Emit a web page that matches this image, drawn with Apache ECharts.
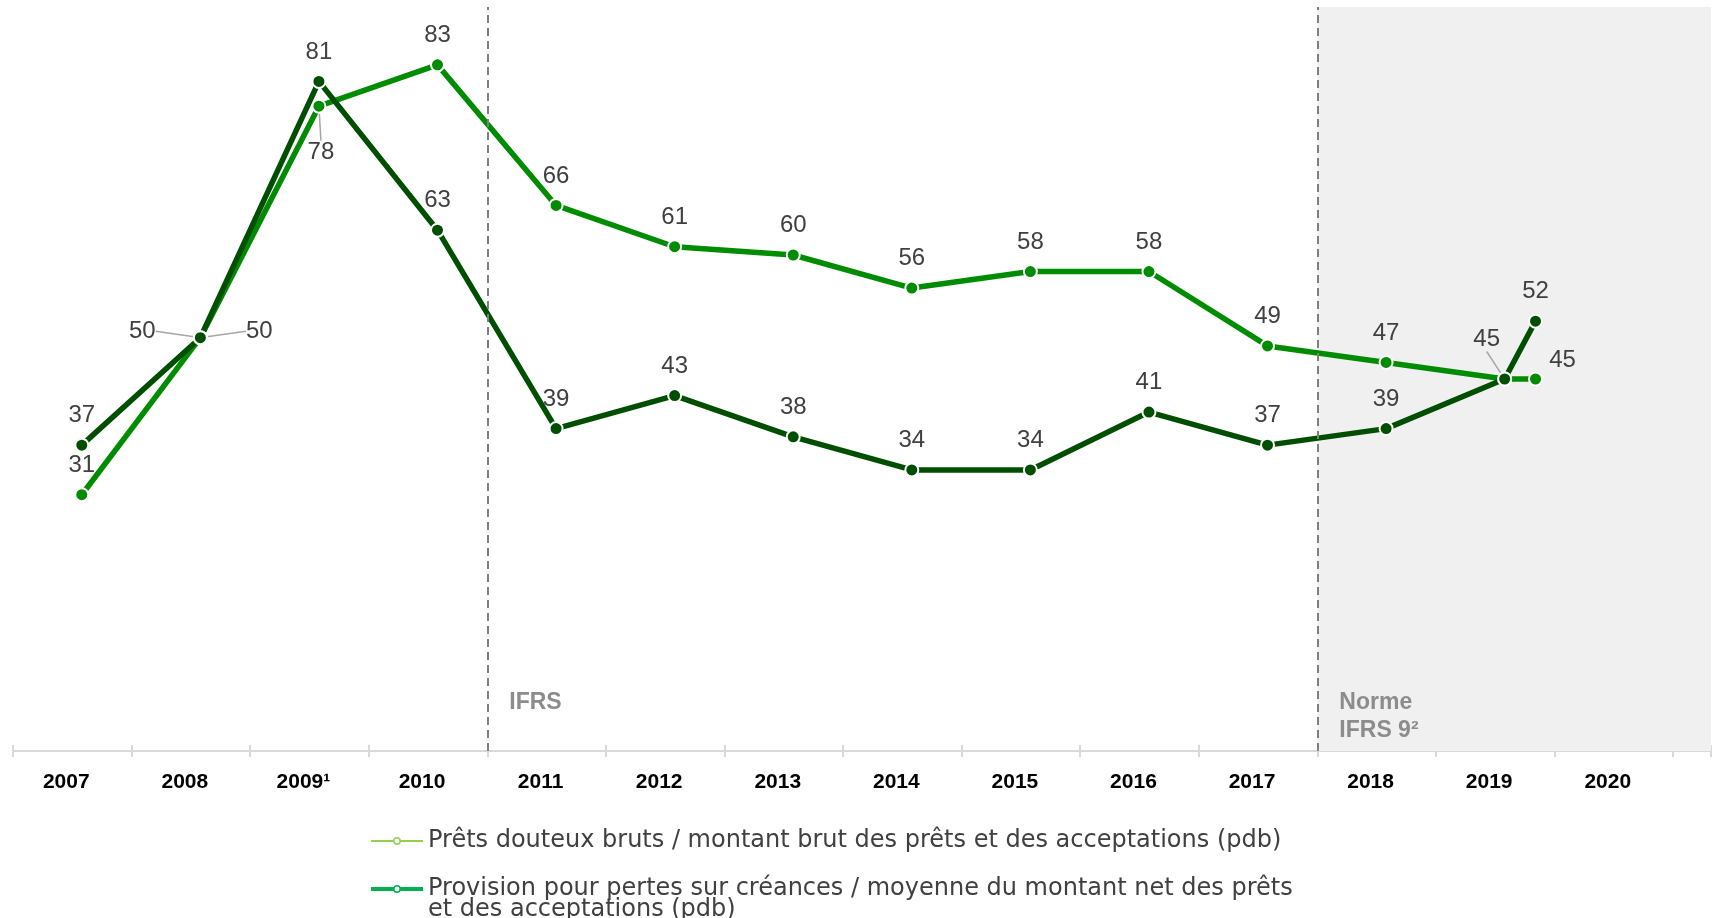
<!DOCTYPE html>
<html><head><meta charset="utf-8">
<script src="https://cdn.jsdelivr.net/npm/echarts@6/dist/echarts.min.js"></script>
<style>html,body{margin:0;padding:0;background:#fff}#c{width:1714px;height:918px}</style>
</head><body><div id="c"></div>
<script>
// ---- data ----
const yearLabels = ['2007','2008','2009¹','2010','2011','2012','2013','2014','2015','2016','2017','2018','2019','2020'];
const firstYear = 2007;
const xPositions = [2007.08,2008.08,2009.08,2010.08,2011.08,2012.08,2013.08,2014.08,2015.08,2016.08,2017.08,2018.08,2019.08,2019.34];
const grossImpaired = [31,50,78,83,66,61,60,56,58,58,49,47,45,45];
const provisionRatio = [37,50,81,63,39,43,38,34,34,41,37,39,45,52];
const seriesNames = [
  'Prêts douteux bruts / montant brut des prêts et des acceptations (pdb)',
  'Provision pour pertes sur créances / moyenne du montant net des prêts\net des acceptations (pdb)'
];
const regimeBreaks = [2010.5, 2017.5];
const regimeLabels = ['IFRS\n ', 'Norme\nIFRS 9²'];

// ---- layout / style ----
const X_MIN = 2006.5, X_MAX = 2020.82;
const GREEN = '#008c00', DARK = '#004f00';
const labelFont = {fontFamily: 'Liberation Sans', fontSize: 24, color: '#404040'};
const moves = {
  '0-1': {dx: 59, dy: 23, line: true},
  '0-2': {dx: 2, dy: 76, line: true},
  '0-13': {dx: 27, dy: 11},
  '1-1': {dx: -58, dy: 23, line: true},
  '1-12': {dx: -18, dy: -10, line: true}
};
const hidden = {'0-12': true};

function buildData(si, values) {
  return values.map((v, i) => {
    const key = si + '-' + i;
    const item = {value: [xPositions[i], v]};
    if (hidden[key]) item.label = {show: false};
    if (moves[key] && moves[key].line) item.labelLine = {show: true, lineStyle: {color: '#a6a6a6', width: 1.5}};
    return item;
  });
}
function makeSeries(si, name, values, color) {
  return {
    type: 'line', name: name, data: buildData(si, values),
    xAxisIndex: 0,
    symbol: 'circle', symbolSize: 13, showAllSymbol: true,
    lineStyle: {color: color, width: 5.5},
    itemStyle: {color: color, borderColor: '#fff', borderWidth: 2},
    label: Object.assign({show: true, position: 'top', distance: 10,
      formatter: p => p.value[1]}, labelFont),
    labelLine: {show: false},
    labelLayout: p => {
      const m = moves[p.seriesIndex + '-' + p.dataIndex];
      return m ? {dx: m.dx, dy: m.dy} : {};
    },
    emphasis: {disabled: true}
  };
}

const s0 = makeSeries(0, seriesNames[0], grossImpaired, GREEN);
const s1 = makeSeries(1, seriesNames[1], provisionRatio, DARK);
const regimeLabelStyle = {show: true, position: 'insideBottomLeft', distance: 0, offset: [22, -6],
  fontFamily: 'Liberation Sans', fontSize: 23, fontWeight: 'bold', color: '#8c8c8c', lineHeight: 28};
s0.markArea = {
  silent: true,
  data: [
    [{xAxis: regimeBreaks[0], name: regimeLabels[0], itemStyle: {color: 'rgba(0,0,0,0)'}}, {xAxis: regimeBreaks[1]}],
    [{xAxis: regimeBreaks[1], name: regimeLabels[1], itemStyle: {color: '#f0f0f0'}}, {xAxis: X_MAX}]
  ],
  label: regimeLabelStyle
};
s0.markLine = {
  silent: true, symbol: ['none', 'none'], label: {show: false},
  lineStyle: {color: '#7f7f7f', type: [8, 5], width: 2},
  data: regimeBreaks.map(b => ({xAxis: b}))
};

const chart = echarts.init(document.getElementById('c'));
chart.setOption({
  animation: false,
  backgroundColor: '#fff',
  grid: {left: 13, right: 0, top: 7, bottom: 167},
  xAxis: [
    {type: 'value', position: 'bottom', min: X_MIN, max: X_MAX, interval: 0.5,
     axisLine: {show: true, onZero: false, lineStyle: {color: '#d9d9d9', width: 2}},
     axisTick: {show: false}, splitLine: {show: false},
     axisLabel: {margin: 21, fontFamily: 'Liberation Sans', fontSize: 21, fontWeight: 'bold', color: '#000',
       padding: [0, 12, 0, 0],
       formatter: v => {
         const i = Math.round(v) - firstYear;
         return (Math.abs(v - Math.round(v)) < 1e-6 && i >= 0 && i < yearLabels.length) ? yearLabels[i] : '';
       }}},
    {type: 'value', position: 'bottom', min: X_MIN, max: X_MAX, interval: 1,
     axisLine: {show: false, onZero: false}, axisLabel: {show: false}, splitLine: {show: false},
     axisTick: {show: true, length: 6, lineStyle: {color: '#d9d9d9', width: 2}}},
    {type: 'value', position: 'bottom', min: X_MIN, max: X_MAX, interval: 1,
     axisLine: {show: false, onZero: false}, axisLabel: {show: false}, splitLine: {show: false},
     axisTick: {show: true, inside: true, length: 6, lineStyle: {color: '#d9d9d9', width: 2}}}
  ],
  yAxis: {type: 'value', min: 0, max: 90, show: false},
  legend: {
    orient: 'vertical', left: 369, top: 829, height: 200, itemWidth: 52, itemHeight: 8, itemGap: 3,
    selectedMode: false, padding: 0,
    textStyle: {fontFamily: 'DejaVu Sans', fontSize: 24, color: '#404040', lineHeight: 21},
    formatter: name => name === seriesNames[1] ? ' \n' + name : name,
    data: [
      {name: seriesNames[0], itemStyle: {color: '#fff', borderColor: '#92d050', borderWidth: 1.5},
       lineStyle: {color: '#92d050', width: 2}},
      {name: seriesNames[1], itemStyle: {color: '#fff', borderColor: '#00b050', borderWidth: 1.5},
       lineStyle: {color: '#00b050', width: 4}}
    ]
  },
  series: [s0, s1]
});
</script></body></html>
